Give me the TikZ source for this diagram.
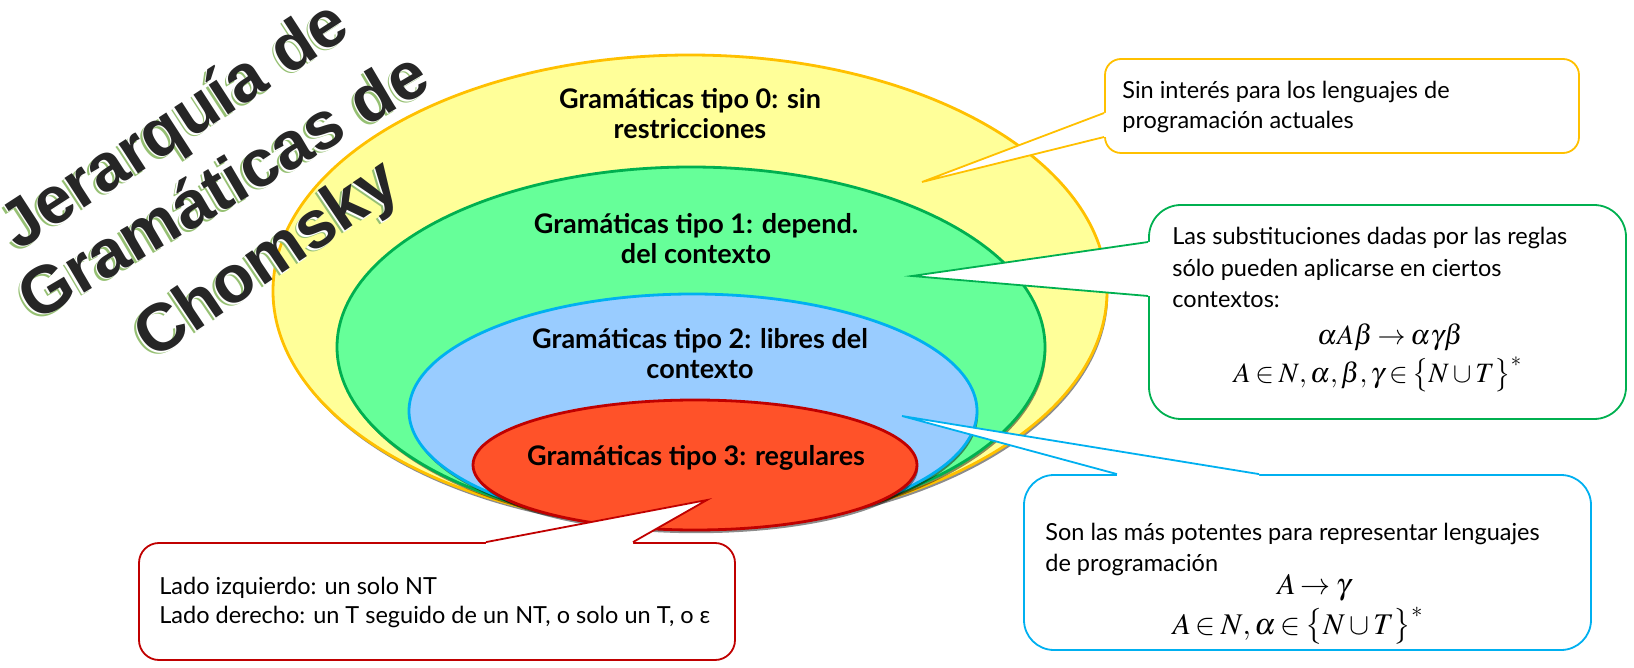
\documentclass[tikz,border=0pt]{standalone}
\usepackage{mathptmx}
\usepackage{fontspec}
\setmainfont{Lato}
\newfontfamily\titlefont{Liberation Sans}
\usetikzlibrary{shapes.geometric,shadows,calc}
\definecolor{yfill}{RGB}{255,255,153}
\definecolor{ydraw}{RGB}{255,192,0}
\definecolor{gfill}{RGB}{102,255,153}
\definecolor{gdraw}{RGB}{0,176,80}
\definecolor{bfill}{RGB}{153,204,255}
\definecolor{bdraw}{RGB}{0,176,240}
\definecolor{rfill}{RGB}{255,82,41}
\definecolor{rdraw}{RGB}{192,0,0}
\definecolor{tgreen}{RGB}{150,192,115}
\definecolor{tblack}{RGB}{38,38,38}
\newcommand{\tightmath}{\thickmuskip=3mu\medmuskip=2.5mu\thinmuskip=2mu}
\tikzset{
  level/.style={ellipse, inner sep=0pt, line width=1.4pt,
    drop shadow={shadow xshift=0.6pt, shadow yshift=-1.6pt, opacity=0.45, fill=black}},
  lbl/.style={font=\bfseries\fontsize{13.5}{15}\selectfont, align=center, inner sep=0pt},
  callbox/.style={rectangle, fill=white, line width=0.9pt, inner sep=0pt},
  ctext/.style={font=\fontsize{11.75}{15}\selectfont, anchor=base west, inner sep=0pt},
  cmath/.style={font=\fontsize{14}{15}\selectfont\tightmath, anchor=base, inner sep=0pt},
  cmathb/.style={font=\fontsize{15}{17}\selectfont\tightmath, anchor=base, inner sep=0pt},
  ttl/.style={font=\titlefont\bfseries\fontsize{33.5}{37.5}\selectfont, inner sep=0pt},
  tsh/.style={ttl, text=tgreen},
  twh/.style={ttl, text=white},
  tbk/.style={ttl, text=tblack},
  ptr/.style={line width=0.9pt, line join=miter},
}
\begin{document}
\begin{tikzpicture}[x=0.5pt,y=-0.5pt]
\useasboundingbox (0,0) rectangle (1634,668);
% ellipses
\node[level, fill=yfill, draw=ydraw, minimum width=417pt, minimum height=236pt] (e0) at (690,291) {};
\node[level, fill=gfill, draw=gdraw, minimum width=354pt, minimum height=180pt] (e1) at (691,347) {};
\node[level, fill=bfill, draw=bdraw, minimum width=284pt, minimum height=117pt] (e2) at (693,411) {};
\node[level, fill=rfill, draw=rdraw, minimum width=222pt, minimum height=65pt] (e3) at (695,465) {};
% labels
\node[lbl] (l0) at (690,114) {Gramáticas tipo 0: sin\\restricciones};
\node[lbl] (l1) at (696,239) {Gramáticas tipo 1: depend.\\del contexto};
\node[lbl] (l2) at (700,354) {Gramáticas tipo 2: libres del\\contexto};
\node[lbl] (l3) at (696,458) {Gramáticas tipo 3: regulares};
% title, line by line: green shadow, white rim, black letters
\node[tsh, rotate=33] (ta1) at (173,131) {Jerarquía de};
\node[twh, rotate=33] (tb1) at (174.5,129.5) {Jerarquía de};
\node[tbk, rotate=33] (tc1) at (176,128) {Jerarquía de};
\node[tsh, rotate=30.5] (ta2) at (219,187) {Gramáticas de};
\node[twh, rotate=30.5] (tb2) at (220.5,185.5) {Gramáticas de};
\node[tbk, rotate=30.5] (tc2) at (222,184) {Gramáticas de};
\node[tsh, rotate=34] (ta3) at (266,265) {Chomsky};
\node[twh, rotate=34] (tb3) at (267.5,263.5) {Chomsky};
\node[tbk, rotate=34] (tc3) at (269,262) {Chomsky};
% callout 0 (yellow)
\node[callbox, draw=ydraw, minimum width=237pt, minimum height=47pt, rounded corners=8pt] (c0) at (1342,106) {};
\coordinate (p0) at (922,182);
\fill[white] ($(c0.west)+(3,7)$) -- ($(c0.west)+(0,7)$) -- (p0) -- ($(c0.west)+(0,31)$) -- ($(c0.west)+(3,31)$) -- cycle;
\draw[ptr, ydraw] ($(c0.west)+(0,7)$) -- (p0) -- ($(c0.west)+(0,31)$);
\node[ctext] (t0a) at (1122,99) {Sin interés para los lenguajes de};
\node[ctext] (t0b) at (1122,129) {programación actuales};
% callout 1 (green)
\node[callbox, draw=gdraw, minimum width=238.5pt, minimum height=107pt, rounded corners=16pt] (c1) at (1387.5,312) {};
\coordinate (p1) at (912,276);
\fill[white] ($(c1.west)+(3,-70)$) -- ($(c1.west)+(0,-70)$) -- (p1) -- ($(c1.west)+(0,-16)$) -- ($(c1.west)+(3,-16)$) -- cycle;
\draw[ptr, gdraw] ($(c1.west)+(0,-70)$) -- (p1) -- ($(c1.west)+(0,-16)$);
\node[ctext] (t1a) at (1172,245) {Las substituciones dadas por las reglas};
\node[ctext] (t1b) at (1172,277) {sólo pueden aplicarse en ciertos};
\node[ctext] (t1c) at (1172,308) {contextos:};
\node[cmath] (m1a) at (1390,345) {$\alpha A\beta\rightarrow\alpha\gamma\beta$};
\node[cmath] (m1b) at (1378,382) {$A\in N,\alpha,\beta,\gamma\in\bigl\{N\cup T\bigr\}^{*}$};
% callout 2 (blue)
\node[callbox, draw=bdraw, minimum width=283.5pt, minimum height=87.5pt, rounded corners=15pt] (c2) at (1307.5,562.5) {};
\coordinate (p2) at (902,416);
\fill[white] ($(c2.north)+(-190.5,3)$) -- ($(c2.north)+(-190.5,0)$) -- (p2) -- ($(c2.north)+(-48.5,0)$) -- ($(c2.north)+(-48.5,3)$) -- cycle;
\draw[ptr, bdraw] ($(c2.north)+(-190.5,0)$) -- (p2) -- ($(c2.north)+(-48.5,0)$);
\node[ctext] (t2a) at (1045,540) {Son las más potentes para representar lenguajes};
\node[ctext] (t2b) at (1045,571) {de programación};
\node[cmathb] (m2a) at (1314,594) {$A\rightarrow\gamma$};
\node[cmathb] (m2b) at (1298,634) {$A\in N,\alpha\in\bigl\{N\cup T\bigr\}^{*}$};
% callout 3 (red)
\node[callbox, draw=rdraw, minimum width=298pt, minimum height=58.5pt, rounded corners=10pt] (c3) at (437,601.5) {};
\coordinate (p3) at (707,500);
\fill[white] ($(c3.north)+(49,3)$) -- ($(c3.north)+(49,0)$) -- (p3) -- ($(c3.north)+(196,0)$) -- ($(c3.north)+(196,3)$) -- cycle;
\draw[ptr, rdraw] ($(c3.north)+(49,0)$) -- (p3) -- ($(c3.north)+(196,0)$);
\node[ctext] (t3a) at (159,594) {Lado izquierdo: un solo NT};
\node[ctext] (t3b) at (159,623) {Lado derecho: un T seguido de un NT, o solo un T, o ε};
\end{tikzpicture}
\end{document}
